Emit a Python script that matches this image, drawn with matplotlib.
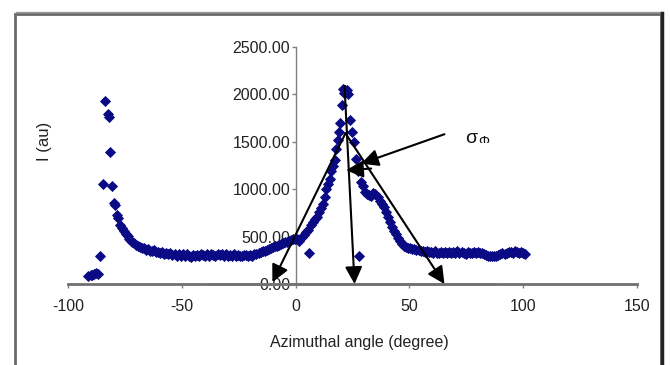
import matplotlib
matplotlib.use("Agg")
import matplotlib.pyplot as plt
from matplotlib.patches import Rectangle
from matplotlib.lines import Line2D
from matplotlib.transforms import Bbox

plt.rcParams['font.family'] = ['Liberation Sans', 'DejaVu Sans']

# ---- data ----
angle = [-91, -90, -89.5, -88.5, -87.5, -86.8, -85.8, -84.8, -83.8, -82.6, -82.2, -81.6,
         -80.6, -79.8, -79.2, -78.5, -77.9, -77.0, -76.3, -75.5, -74.6, -73.8, -73.0, -72.1,
         -71.2, -70.3, -69.4, -68.5, -67.6, -66.7, -65.8, -64.9, -64.0, -63.1, -62.2, -61.3,
         -60.4, -59.5, -58.6, -57.7, -56.8, -55.9, -55.0, -54.1, -53.2, -52.3, -51.4, -50.5,
         -49.6, -48.7, -47.8, -46.9, -46.0, -45.1, -44.2, -43.3, -42.4, -41.5, -40.6, -39.7,
         -38.8, -37.9, -37.0, -36.1, -35.2, -34.3, -33.4, -32.5, -31.6, -30.7, -29.8, -28.9,
         -28.0, -27.1, -26.2, -25.3, -24.4, -23.5, -22.6, -21.7, -20.8, -19.9, -19.0, -18.1,
         -17.2, -16.3, -15.4, -14.5, -13.6, -12.7, -11.8, -10.9, -10.0, -9.1, -8.2, -7.3,
         -6.4, -5.5, -4.6, -3.7, -2.8, -1.9, -1.0, -0.1, 0.8, 1.7, 2.6, 3.5, 4.4, 5.3, 6.1,
         6.9, 7.8, 8.6, 9.4, 10.3, 11.1, 12.0, 12.8, 13.5, 14.3, 15.0, 15.7, 16.4, 17.1,
         17.8, 18.5, 19.1, 19.7, 20.2, 20.8, 21.3, 21.9, 22.5, 23.2, 24.0, 24.8, 25.6, 26.4,
         27.2, 28.0, 28.8, 29.7, 30.6, 31.5, 32.4, 33.3, 34.2, 35.1, 36.0, 36.9, 37.8,
         38.7, 39.6, 40.5, 41.4, 42.3, 43.2, 44.1, 45.0, 45.9, 46.8, 47.7, 48.6, 49.5,
         50.4, 51.3, 52.2, 53.1, 54.0, 54.9, 55.8, 56.7, 57.6, 58.5, 59.4, 60.3, 61.2,
         62.1, 63.0, 63.9, 64.8, 65.7, 66.6, 67.5, 68.4, 69.3, 70.2, 71.1, 72.0, 72.9,
         73.8, 74.7, 75.6, 76.5, 77.4, 78.3, 79.2, 80.1, 81.0, 81.9, 82.8, 83.7, 84.6,
         85.5, 86.4, 87.3, 88.2, 89.1, 90.0, 90.9, 91.8, 92.7, 93.6, 94.5, 95.4, 96.3,
         97.2, 98.1, 99.0, 99.9, 100.6]
intensity = [85, 95, 100, 105, 115, 108, 300, 1060, 1930, 1790, 1760, 1390,
             1030, 850, 830, 730, 700, 620, 590, 560, 530, 505, 470, 440,
             430, 410, 400, 390, 375, 385, 360, 368, 350, 345, 356, 335,
             342, 326, 336, 318, 332, 312, 322, 305, 318, 300, 315, 298,
             312, 296, 315, 300, 290, 306, 295, 310, 300, 318, 304, 294,
             312, 300, 320, 305, 298, 315, 302, 318, 300, 312, 296, 308,
             300, 315, 298, 305, 295, 300, 310, 304, 296, 305, 300, 312,
             318, 325, 335, 345, 352, 362, 372, 380, 388, 398, 405, 412,
             420, 430, 440, 448, 455, 462, 470, 478, 470, 455, 500, 520, 545, 570, 332,
             625, 650, 685, 705, 760, 800, 845, 920, 1000, 1050, 1110, 1197, 1250, 1303,
             1420, 1520, 1603, 1700, 1886, 2062, 2010, 2050, 2044, 2002, 1727, 1600, 1497, 1321,
             1197, 297, 1073, 1030, 967, 950, 940, 932, 960, 945, 915, 880, 845,
             812, 760, 706, 650, 600, 560, 530, 480, 450, 424, 400, 390, 385,
             380, 371, 365, 360, 355, 353, 345, 340, 350, 335, 342, 330, 345,
             332, 325, 338, 330, 342, 328, 335, 322, 338, 330, 344, 326, 336,
             330, 320, 340, 332, 325, 338, 328, 335, 322, 330, 318, 310, 300,
             296, 292, 300, 296, 308, 315, 322, 318, 330, 338, 342, 330, 345,
             335, 328, 340, 332, 320]

xticks = [-100, -50, 0, 50, 100, 150]
yticks = [0, 500, 1000, 1500, 2000, 2500]
xlabel = "Azimuthal angle (degree)"
ylabel = "I (au)"

W, H = 670, 365
fig = plt.figure(figsize=(W / 100, H / 100), dpi=100)
fig.patch.set_facecolor("white")

def fx(px):
    return px / W

def fy(py):
    return 1 - py / H

# outer chart frame
fig.patches.append(Rectangle((fx(15), fy(380)), fx(661) - fx(15), fy(14) - fy(380),
                             transform=fig.transFigure, fill=False,
                             edgecolor="#6a6a6a", lw=2.0))
fig.lines.append(Line2D([fx(16), fx(661)], [fy(12), fy(12)], transform=fig.transFigure,
                        color="#9a9a9a", lw=1.0))
fig.lines.append(Line2D([fx(662), fx(662)], [fy(13), fy(380)], transform=fig.transFigure,
                        color="#222222", lw=2.5))

ax = fig.add_axes([fx(68), fy(284), fx(637) - fx(68), fy(47) - fy(284)])
ax.set_xlim(-100, 150)
ax.set_ylim(0, 2500)
ax.patch.set_alpha(0)

ax.plot(angle, intensity, linestyle="none", marker="D", markersize=5.2,
        color="#0a0a85", markeredgewidth=0.6, clip_on=False, zorder=3)

for s in ("top", "right"):
    ax.spines[s].set_visible(False)
ax.spines["left"].set_position(("data", 0))
ax.spines["left"].set_color("#808080")
ax.spines["left"].set_linewidth(1.0)
ax.spines["bottom"].set_color("#707070")
ax.spines["bottom"].set_linewidth(2.0)

ax.set_xticks(xticks)
ax.set_yticks(yticks)
ax.set_xticklabels([str(v) for v in xticks])
ax.set_yticklabels(["%.2f" % v for v in yticks])
ax.tick_params(axis="both", direction="out", length=3, width=1, colors="#808080",
               labelcolor="#222222", labelsize=11.5)
ax.tick_params(axis="x", pad=8)
ax.tick_params(axis="y", pad=1)

# lighter band on the x axis
ax.plot([-38, 87], [0, 0], color="#c0c0c0", lw=2.2, clip_on=False, zorder=2.5)

fig.text(fx(359), fy(343), xlabel, ha="center", va="center", fontsize=11.5, color="#222222")
fig.text(fx(45), fy(141), ylabel, ha="center", va="center", rotation=90, fontsize=12,
         color="#222222")

# annotation arrows
arrow_kw = dict(arrowstyle="-|>,head_length=0.8,head_width=0.4", color="black", lw=1.5,
                mutation_scale=13, shrinkA=0, shrinkB=0)
apex = (21.9, 1590)
ax.annotate("", xy=(-10.2, 20), xytext=apex, arrowprops=arrow_kw, annotation_clip=False)
ax.annotate("", xy=(25.9, 0), xytext=(21.5, 2090), arrowprops=arrow_kw, annotation_clip=False)
ax.annotate("", xy=(65.4, 0), xytext=apex, arrowprops=arrow_kw, annotation_clip=False)
ax.annotate("", xy=(28.8, 1270), xytext=(65.4, 1580), arrowprops=arrow_kw, annotation_clip=False)
ax.annotate("", xy=(22.2, 1200), xytext=(33.2, 1218), arrowprops=arrow_kw, annotation_clip=False)

# sigma label (subscript clipped as in the original)
clip = Bbox.from_extents(0, H - 143, W, H)
t1 = fig.text(fx(465), fy(143), "σ", fontsize=14, ha="left", va="baseline", color="#111111")
t2 = fig.text(fx(478), fy(146), "Φ", fontsize=10, ha="left", va="baseline", color="#111111")
t2.set_clip_box(clip)
t2.set_clip_on(True)

fig.savefig("out.png", dpi=100, facecolor="white")
